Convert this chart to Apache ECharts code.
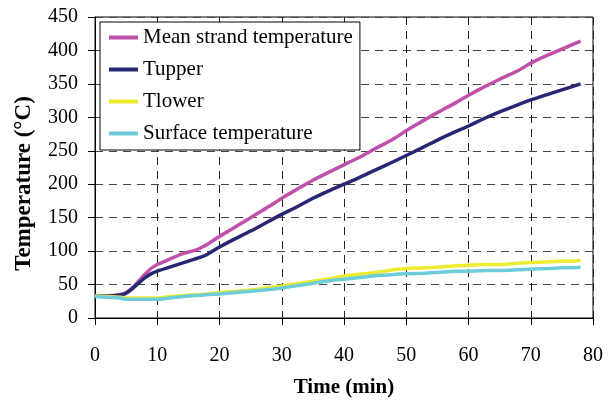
<!DOCTYPE html>
<html>
<head>
<meta charset="utf-8">
<script src="https://cdn.jsdelivr.net/npm/echarts@6/dist/echarts.min.js"></script>
<style>html,body{margin:0;padding:0;background:#fff}#c{width:615px;height:403px}</style>
</head>
<body>
<div id="c"></div>
<script>
var seriesNames = ['Mean strand temperature', 'Tupper', 'Tlower', 'Surface temperature'];
var xTicks = [0, 10, 20, 30, 40, 50, 60, 70, 80];
var yTicks = [0, 50, 100, 150, 200, 250, 300, 350, 400, 450];

var meanT = [0,2,4,5,6,7,8,9,10,12,14,16,17,18,20,22,25,28,30,32,35,38,40,42,45,48,50,52,55,58,60,62,65,68,70,72,75,78];
var meanV = [33,33,35,38,45,55,65,74,80,88,96,101,105,110,122,133,150,167,179,190,206,220,229,238,253,268,280,291,307,322,333,343,357,370,381,390,402,414];

var upT = [0,2,4,5,6,7,8,9,10,12,14,16,17,18,20,22,25,28,30,32,35,38,40,42,45,48,50,52,55,58,60,62,65,68,70,72,75,78];
var upV = [33,33,34,37,44,52,60,66,70,76,82,88,91,95,106,116,130,145,155,164,179,192,200,208,221,234,243,252,266,279,287,296,308,319,326,332,341,350];

var lowT = [0,2,4,5,7,10,12,15,18,20,25,30,33,35,38,40,43,45,48,50,53,55,58,60,63,65,68,70,73,75,77,78];
var lowV = [33,32,31,30,30,30,32,34,36,38,42,48,52,55,59,63,66,68,72,74,75,76,78,79,80,80,82,83,84,85,85,87];

var surfT = [0,2,4,5,7,10,12,15,18,20,25,30,33,35,38,40,43,45,48,50,53,55,58,60,63,65,68,70,73,75,77,78];
var surfV = [32,31,30,28,28,28,30,33,35,36,40,45,49,52,56,58,61,63,65,66,67,68,70,70,71,71,72,73,74,75,75,76];

var colors = ['#C150AA', '#262874', '#EDEC30', '#6CCDD9'];

function pairs(t, v) { return t.map(function (x, i) { return [x, v[i]]; }); }
var allData = [pairs(meanT, meanV), pairs(upT, upV), pairs(lowT, lowV), pairs(surfT, surfV)];

var font = 'Liberation Serif';
var chart = echarts.init(document.getElementById('c'), null, { renderer: 'canvas' });
chart.setOption({
  backgroundColor: '#fff',
  animation: false,
  grid: { left: 95, right: 22, top: 17, bottom: 84, show: true, borderColor: '#000', borderWidth: 1, backgroundColor: 'transparent' },
  legend: {
    orient: 'vertical', left: 100, top: 22,
    padding: [5, 7, 6, 9], itemGap: 11, itemWidth: 29, itemHeight: 4,
    icon: 'rect', backgroundColor: '#fff', borderColor: '#000', borderWidth: 1,
    textStyle: { fontFamily: font, fontSize: 21, color: '#000', lineHeight: 21 },
    data: seriesNames, z: 10
  },
  xAxis: {
    type: 'value', min: xTicks[0], max: xTicks[xTicks.length - 1], interval: 10,
    name: 'Time (min)', nameLocation: 'middle', nameGap: 59,
    nameTextStyle: { fontFamily: font, fontSize: 21, fontWeight: 'bold', color: '#000' },
    axisLine: { show: true, lineStyle: { color: '#000', width: 1 } },
    axisTick: { show: true, inside: false, length: 7, lineStyle: { color: '#000' } },
    axisLabel: { fontFamily: font, fontSize: 20, color: '#000', margin: 28 },
    splitLine: { show: true, lineStyle: { color: '#222', type: [8, 6], width: 1 } }
  },
  yAxis: {
    type: 'value', min: yTicks[0], max: yTicks[yTicks.length - 1], interval: 50,
    name: 'Temperature (°C)', nameLocation: 'middle', nameGap: 59,
    nameTextStyle: { fontFamily: font, fontSize: 23, fontWeight: 'bold', color: '#000', padding: [0, 32, 0, 0] },
    axisLine: { show: true, lineStyle: { color: '#000', width: 1 } },
    axisTick: { show: true, inside: false, length: 7, lineStyle: { color: '#000' } },
    axisLabel: { fontFamily: font, fontSize: 20, color: '#000', margin: 17 },
    splitLine: { show: true, lineStyle: { color: '#444', type: [8, 6], width: 1 } }
  },
  series: seriesNames.map(function (n, i) {
    return {
      name: n, type: 'line', data: allData[i], showSymbol: false, symbol: 'none',
      smooth: 0.3, lineStyle: { color: colors[i], width: 3.5 }, itemStyle: { color: colors[i] }
    };
  })
});
</script>
</body>
</html>
